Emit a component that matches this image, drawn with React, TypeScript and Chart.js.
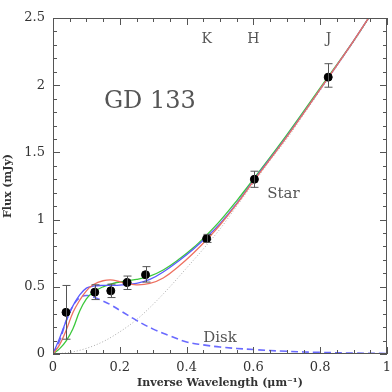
import React, { useEffect, useRef } from "react";
import { Chart, registerables } from "chart.js";

Chart.register(...registerables);

// model curves (x = inverse wavelength)
const modelX = [0, 0.02, 0.04, 0.06, 0.08, 0.1, 0.12, 0.15, 0.18, 0.21, 0.25, 0.29, 0.33, 0.38, 0.42, 0.46, 0.5, 0.55, 0.6, 0.7, 0.8, 0.9, 0.95];
const blueModel = [0, 0.12, 0.25, 0.36, 0.44, 0.49, 0.505, 0.51, 0.51, 0.515, 0.525, 0.555, 0.61, 0.7, 0.78, 0.87, 0.97, 1.12, 1.29, 1.62, 1.97, 2.33, 2.52];
const redModel = [0, 0.07, 0.18, 0.31, 0.4, 0.47, 0.515, 0.545, 0.55, 0.53, 0.515, 0.525, 0.565, 0.66, 0.75, 0.85, 0.96, 1.115, 1.285, 1.615, 1.97, 2.33, 2.52];
const greenModel = [0, 0.04, 0.1, 0.19, 0.32, 0.41, 0.46, 0.5, 0.525, 0.54, 0.555, 0.58, 0.625, 0.71, 0.79, 0.885, 0.99, 1.14, 1.3, 1.63, 1.98, 2.33, 2.52];

const starX = [0, 0.05, 0.1, 0.15, 0.2, 0.25, 0.3, 0.35, 0.4, 0.46, 0.5, 0.55, 0.6, 0.65, 0.7, 0.75, 0.8, 0.85, 0.9, 0.95];
const starFlux = [0, 0.012, 0.042, 0.092, 0.165, 0.255, 0.37, 0.5, 0.64, 0.81, 0.93, 1.1, 1.27, 1.44, 1.6, 1.78, 1.96, 2.14, 2.32, 2.51];

const diskX = [0, 0.02, 0.04, 0.06, 0.08, 0.1, 0.12, 0.14, 0.17, 0.2, 0.25, 0.3, 0.35, 0.4, 0.45, 0.5, 0.6, 0.7, 0.8, 0.9, 1.0];
const diskFlux = [0, 0.1, 0.25, 0.36, 0.42, 0.435, 0.425, 0.405, 0.37, 0.325, 0.25, 0.185, 0.135, 0.09, 0.068, 0.052, 0.033, 0.02, 0.012, 0.007, 0.004];

// photometry
const obsX = [0.039, 0.125, 0.173, 0.222, 0.277, 0.46, 0.603, 0.824];
const obsY = [0.31, 0.46, 0.47, 0.532, 0.59, 0.858, 1.3, 2.06];
const obsLo = [0.11, 0.405, 0.42, 0.48, 0.535, 0.83, 1.24, 1.985];
const obsHi = [0.51, 0.515, 0.52, 0.58, 0.65, 0.89, 1.36, 2.16];

const xTicks = [0, 0.2, 0.4, 0.6, 0.8, 1];
const yTicks = [0, 0.5, 1, 1.5, 2, 2.5];

const bandNames = ["K", "H", "J"];
const bandX = [0.46, 0.6, 0.825];

const pts = (xs: number[], ys: number[]) => xs.map((x, i) => ({ x, y: ys[i] }));

const SERIF = "'DejaVu Serif', serif";

const decorPlugin = {
  id: "decor",
  afterDatasetsDraw(chart: any) {
    const { ctx, scales } = chart;
    const xs = scales.x;
    const ys = scales.y;
    ctx.save();
    ctx.strokeStyle = "#555";
    ctx.lineWidth = 1;
    for (let i = 0; i < obsX.length; i++) {
      const px = Math.round(xs.getPixelForValue(obsX[i])) + 0.5;
      const lo = ys.getPixelForValue(obsLo[i]);
      const hi = ys.getPixelForValue(obsHi[i]);
      ctx.beginPath();
      ctx.moveTo(px, lo);
      ctx.lineTo(px, hi);
      ctx.moveTo(px - 4, lo);
      ctx.lineTo(px + 4, lo);
      ctx.moveTo(px - 4, hi);
      ctx.lineTo(px + 4, hi);
      ctx.stroke();
    }
    ctx.restore();
  },
  afterDraw(chart: any) {
    const { ctx, chartArea: a, scales } = chart;
    const xs = scales.x;
    const ys = scales.y;
    ctx.save();
    ctx.strokeStyle = "#555";
    ctx.lineWidth = 1;
    ctx.strokeRect(a.left + 0.5, a.top + 0.5, a.right - a.left - 1, a.bottom - a.top - 1);
    ctx.beginPath();
    for (let i = 0; i <= 20; i++) {
      const v = i * 0.05;
      const px = Math.round(xs.getPixelForValue(v)) + 0.5;
      const len = i % 4 === 0 ? 7 : 4;
      ctx.moveTo(px, a.bottom);
      ctx.lineTo(px, a.bottom - len);
      ctx.moveTo(px, a.top);
      ctx.lineTo(px, a.top + len);
    }
    for (let i = 0; i <= 25; i++) {
      const v = i * 0.1;
      const py = Math.round(ys.getPixelForValue(v)) + 0.5;
      const len = i % 5 === 0 ? 7 : 4;
      ctx.moveTo(a.left, py);
      ctx.lineTo(a.left + len, py);
      ctx.moveTo(a.right, py);
      ctx.lineTo(a.right - len, py);
    }
    ctx.stroke();

    ctx.fillStyle = "#555";
    ctx.textAlign = "center";
    ctx.textBaseline = "middle";
    ctx.font = `24px ${SERIF}`;
    ctx.fillText("GD 133", xs.getPixelForValue(0.29), ys.getPixelForValue(1.88));
    ctx.font = `15px ${SERIF}`;
    ctx.fillText("Star", xs.getPixelForValue(0.69), ys.getPixelForValue(1.19));
    ctx.fillText("Disk", xs.getPixelForValue(0.5), ys.getPixelForValue(0.12));
    ctx.font = `14px ${SERIF}`;
    for (let i = 0; i < bandNames.length; i++) {
      ctx.fillText(bandNames[i], xs.getPixelForValue(bandX[i]), ys.getPixelForValue(2.34));
    }
    ctx.restore();
  },
};

export default function App() {
  const ref = useRef<HTMLCanvasElement>(null);
  useEffect(() => {
    if (!ref.current) return;
    const chart = new Chart(ref.current, {
      type: "line",
      data: {
        datasets: [
          {
            type: "scatter",
            label: "obs",
            data: pts(obsX, obsY),
            backgroundColor: "#000",
            borderColor: "#000",
            pointRadius: 4,
            showLine: false,
          } as any,
          {
            label: "red",
            data: pts(modelX, redModel),
            borderColor: "#ee7060",
            borderWidth: 1.3,
            pointRadius: 0,
            tension: 0.4,
          },
          {
            label: "blue",
            data: pts(modelX, blueModel),
            borderColor: "#5a5aff",
            borderWidth: 1.3,
            pointRadius: 0,
            tension: 0.4,
          },
          {
            label: "green",
            data: pts(modelX, greenModel),
            borderColor: "#3cc83c",
            borderWidth: 1.3,
            pointRadius: 0,
            tension: 0.4,
          },
          {
            label: "disk",
            data: pts(diskX, diskFlux),
            borderColor: "#6a6aff",
            borderWidth: 1.6,
            borderDash: [7, 4],
            pointRadius: 0,
            tension: 0.4,
          },
          {
            label: "star",
            data: pts(starX, starFlux),
            borderColor: "#aaa",
            borderWidth: 1,
            borderDash: [1, 2],
            pointRadius: 0,
            tension: 0.4,
            cubicInterpolationMode: "monotone",
          },
        ],
      },
      options: {
        animation: false,
        responsive: false,
        maintainAspectRatio: false,
        layout: { padding: { top: 18, right: 4, left: 0, bottom: 0 } },
        plugins: { legend: { display: false }, tooltip: { enabled: false } },
        scales: {
          x: {
            type: "linear",
            min: 0,
            max: 1,
            afterBuildTicks: (s: any) => {
              s.ticks = xTicks.map((v) => ({ value: v }));
            },
            afterFit: (s: any) => {
              s.height = 38;
              s.paddingLeft = 0;
              s.paddingRight = 0;
            },
            grid: { display: false, drawTicks: false },
            border: { display: false },
            ticks: {
              padding: 6,
              color: "#333",
              font: { family: SERIF, size: 13 },
              maxRotation: 0,
              callback: (v: any) => String(Number(Number(v).toFixed(2))),
            },
            title: {
              display: true,
              text: "Inverse Wavelength (μm⁻¹)",
              color: "#333",
              font: { family: SERIF, size: 11, weight: "bold" },
              padding: { top: 2, bottom: 2 },
            },
          },
          y: {
            type: "linear",
            min: 0,
            max: 2.5,
            afterBuildTicks: (s: any) => {
              s.ticks = yTicks.map((v) => ({ value: v }));
            },
            afterFit: (s: any) => {
              s.width = 53;
              s.paddingTop = 0;
              s.paddingBottom = 0;
            },
            grid: { display: false, drawTicks: false },
            border: { display: false },
            ticks: {
              padding: 8,
              color: "#333",
              font: { family: SERIF, size: 13 },
              callback: (v: any) => String(Number(Number(v).toFixed(2))),
            },
            title: {
              display: true,
              text: "Flux (mJy)",
              color: "#333",
              font: { family: SERIF, size: 11, weight: "bold" },
              padding: { top: 2, bottom: 2 },
            },
          },
        },
      } as any,
      plugins: [decorPlugin],
    });
    return () => chart.destroy();
  }, []);
  return (
    <div style={{ position: "fixed", left: 0, top: 0, width: 392, height: 392, background: "#fff" }}>
      <canvas ref={ref} width={392} height={392} style={{ width: 392, height: 392 }} />
    </div>
  );
}
